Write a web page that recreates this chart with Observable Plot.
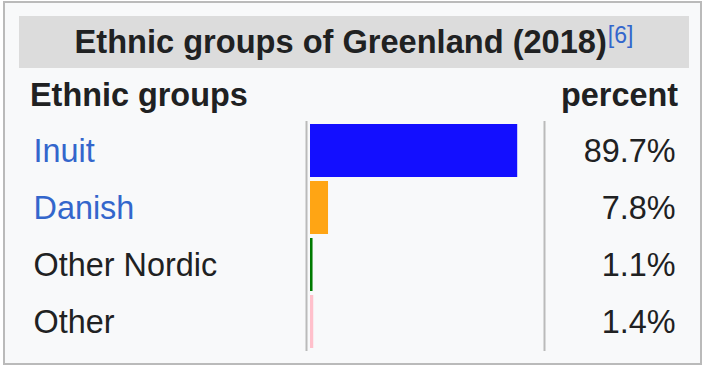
<!DOCTYPE html>
<html>
<head>
<meta charset="utf-8">
<script src="https://cdn.jsdelivr.net/npm/d3@7"></script>
<script src="https://cdn.jsdelivr.net/npm/@observablehq/plot@0.6"></script>
<style>
  html, body { margin: 0; padding: 0; background: #ffffff; }
  #wrap { position: relative; width: 708px; height: 372px; overflow: hidden;
          font-family: "Liberation Sans", Arial, sans-serif; color: #202122; }
  #box { position: absolute; left: 3px; top: 1px; width: 699px; height: 364px;
         box-sizing: border-box; border: 2px solid #bababa; background: #f8f9fa; }
  #title { position: absolute; left: 19px; top: 16px; width: 670px; height: 52px;
           background: #dcdcdc; text-align: center; font-weight: bold; font-size: 32.6px;
           line-height: 52px; white-space: nowrap; }
  #title sup { font-size: 23px; font-weight: normal; color: #3366cc; vertical-align: baseline;
               position: relative; top: -10px; margin-left: 1px; }
  .hdr { position: absolute; top: 76.5px; font-weight: bold; font-size: 32.4px; line-height: 36px; white-space: nowrap; }
  #hdrL { left: 30px; }
  #hdrR { right: 30px; }
  #chart { position: absolute; left: 0; top: 0; }
</style>
</head>
<body>
<div id="wrap">
  <div id="box"></div>
  <div id="title">Ethnic groups of Greenland (2018)<sup>[6]</sup></div>
  <div class="hdr" id="hdrL">Ethnic groups</div>
  <div class="hdr" id="hdrR">percent</div>
  <div id="chart"></div>
</div>
<script>
const categories = ["Inuit", "Danish", "Other Nordic", "Other"];
const percents = [89.7, 7.8, 1.1, 1.4];
const barColors = ["#130fff", "#ffa514", "#007a00", "#ffc0cb"];
const linked = [true, true, false, false];

const rows = categories.map((c, i) => ({group: c, value: percents[i], link: linked[i]}));

const fontSize = 32.4;
const chart = Plot.plot({
  width: 708,
  height: 372,
  marginTop: 121,
  marginBottom: 21,
  marginLeft: 310,
  marginRight: 167,
  style: {background: "transparent", fontFamily: "'Liberation Sans', Arial, sans-serif", overflow: "visible"},
  x: {domain: [0, 100], axis: null},
  y: {type: "band", domain: categories, padding: 0, axis: null},
  color: {domain: categories, range: barColors},
  marks: [
    Plot.ruleX([0], {stroke: "#bababa", strokeWidth: 2, dx: -4}),
    Plot.ruleX([100], {stroke: "#bababa", strokeWidth: 2, dx: 3}),
    Plot.barX(rows, {x: "value", y: "group", fill: "group", insetTop: 2, insetBottom: 2}),
    Plot.text(rows.filter(d => d.link), {x: () => 0, y: "group", text: "group", textAnchor: "start",
      dx: -277, dy: 1, fontSize, fill: "#3366cc"}),
    Plot.text(rows.filter(d => !d.link), {x: () => 0, y: "group", text: "group", textAnchor: "start",
      dx: -277, dy: 1, fontSize, fill: "#202122"}),
    Plot.text(rows, {x: () => 100, y: "group", text: d => d.value.toFixed(1) + "%", textAnchor: "end",
      dx: 134, dy: 1, fontSize, fill: "#202122"})
  ]
});
document.getElementById("chart").appendChild(chart);
</script>
</body>
</html>
